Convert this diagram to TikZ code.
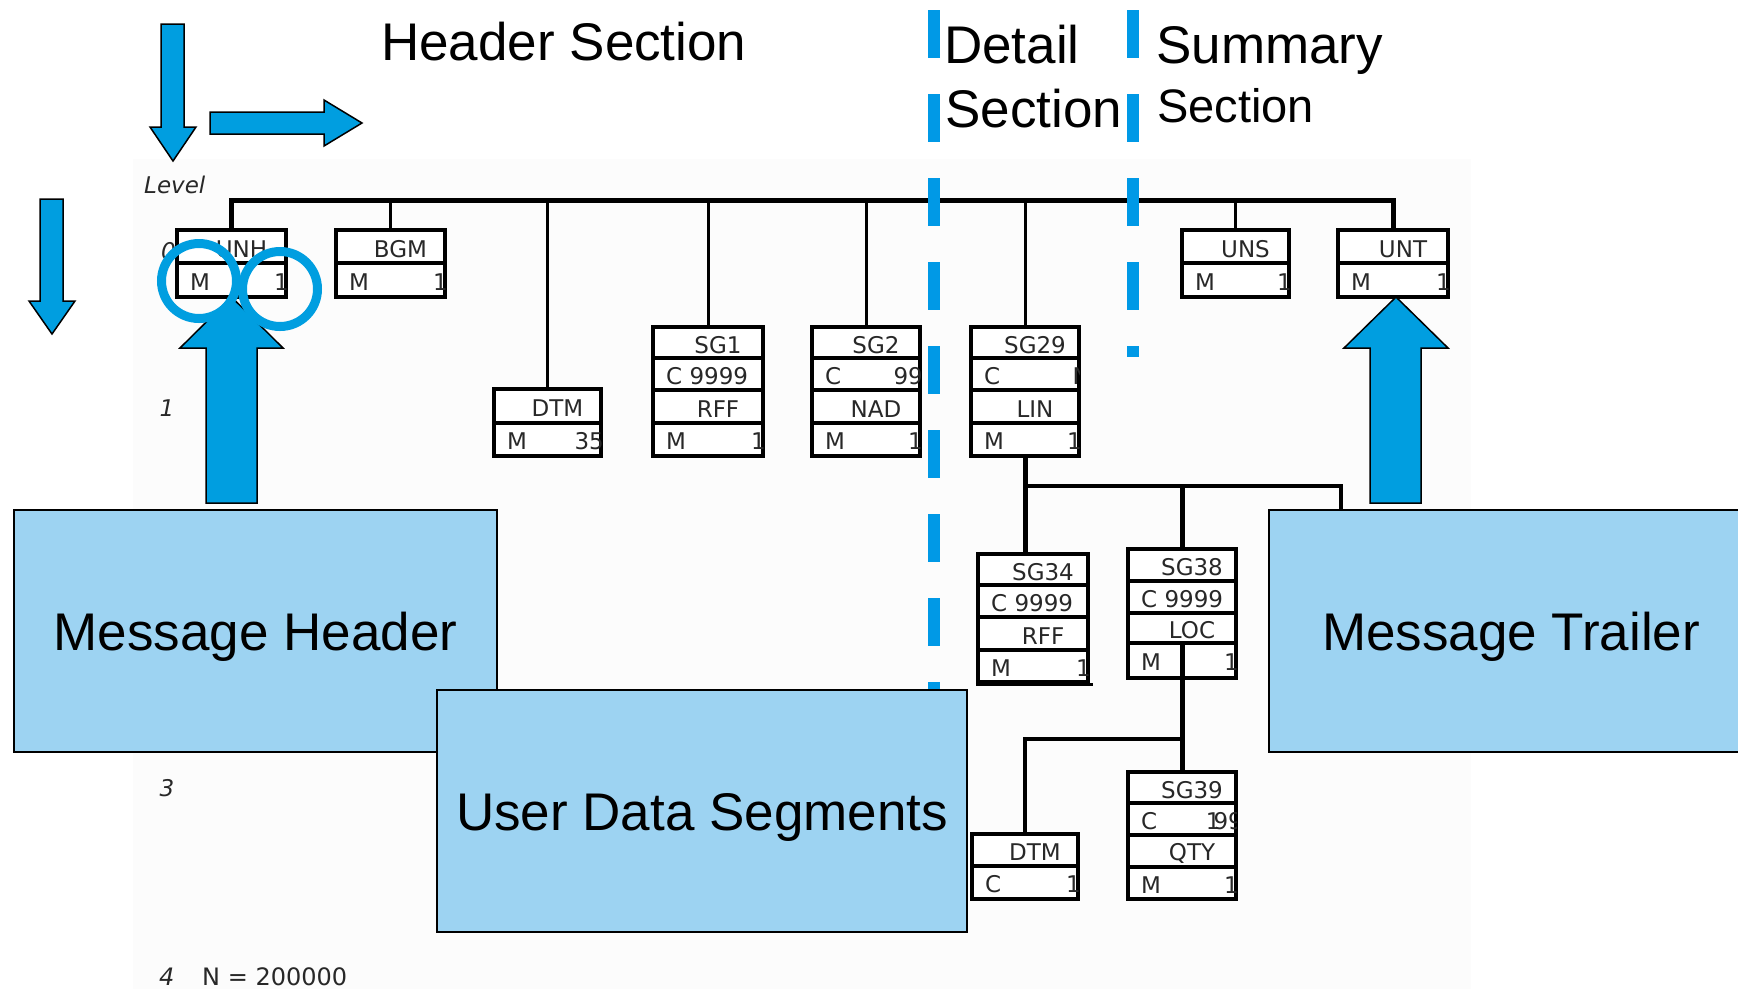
\documentclass[tikz,border=0pt]{standalone}
\usepackage{fontspec}
\setmainfont{Liberation Sans}
\newfontfamily\boxfont{DejaVu Sans}
\usetikzlibrary{fit}
\definecolor{arrowblue}{RGB}{0,158,224}
\definecolor{dashblue}{RGB}{0,153,230}
\definecolor{boxblue}{RGB}{157,211,242}
\definecolor{bggray}{RGB}{252,252,252}
\definecolor{txtgray}{RGB}{40,40,40}
\tikzset{
  segbox/.style={draw=black, fill=white, line width=4.5pt, inner sep=0pt},
  rowline/.style={draw=black, line width=3.5pt},
  boxtxt/.style={inner sep=0pt, text=txtgray, font=\boxfont\fontsize{23}{26}\selectfont},
  lvltxt/.style={inner sep=0pt, text=txtgray, font=\boxfont\itshape\fontsize{23}{26}\selectfont},
  thickconn/.style={draw=black, line width=5pt},
  thinconn/.style={draw=black, line width=3pt},
  midconn/.style={draw=black, line width=4pt},
  blockarrow/.style={fill=arrowblue, draw=black, line width=1.5pt, line join=miter},
  secdash/.style={draw=dashblue, line width=11.5pt, dash pattern=on 47.5pt off 36.5pt},
  ring/.style={draw=arrowblue, line width=9pt},
  bigbox/.style={draw=black, fill=boxblue, line width=2pt, inner sep=0pt,
    font=\fontsize{53}{60}\selectfont, text height=38pt, text depth=0pt},
  bigtxt/.style={inner sep=0pt, anchor=base west, font=\fontsize{53}{60}\selectfont},
}
\newcommand{\edibox}[6]{%
  \node[segbox, fit={(#2,#3) (#4,#5)}] (#1) {};
  \begin{scope}
    \clip (#2,#3) rectangle (#4,#5);
    \foreach \rya/\ryb/\txa/\txb/\txc [count=\k] in {#6} {
      \draw[rowline] (#2,\ryb) -- (#4,\ryb);
      \node[boxtxt, anchor=west] (#1-l\k) at ({#2+13},{(\rya+\ryb)/2+2}) {\txa};
      \node[boxtxt] (#1-c\k) at ({(#2+#4)/2+10},{(\rya+\ryb)/2+2.5}) {\txb};
      \node[boxtxt, anchor=east] (#1-r\k) at ({#4+3},{(\rya+\ryb)/2+2}) {\txc};
    }
  \end{scope}
}
\begin{document}
\begin{tikzpicture}[x=1pt, y=-1pt]
\useasboundingbox (0,0) rectangle (1738,989);
\fill[bggray] (133,159) rectangle (1471,989);

% segment boxes
\edibox{unh}{177}{230}{286}{297}{230/263/{}/UNH/{}, 263/297/M/{}/1}
\edibox{bgm}{336}{230}{445}{297}{230/263/{}/BGM/{}, 263/297/M/{}/1}
\edibox{dtma}{494}{389}{601}{456}{389/423/{}/DTM/{}, 423/456/M/{}/35}
\edibox{sga}{653}{327}{763}{456}{327/358/{}/SG1/{}, 358/390/C 9999/{}/{}, 390/423/{}/RFF/{}, 423/456/M/{}/1}
\edibox{sgb}{812}{327}{920}{456}{327/358/{}/SG2/{}, 358/390/C/{}/99, 390/423/{}/NAD/{}, 423/456/M/{}/1}
\edibox{sgc}{971}{327}{1079}{456}{327/358/{}/SG29/{}, 358/390/C/{}/N\kern-8pt, 390/423/{}/LIN/{}, 423/456/M/{}/1}
\edibox{uns}{1182}{230}{1289}{297}{230/263/{}/UNS/{}, 263/297/M/{}/1}
\edibox{unt}{1338}{230}{1448}{297}{230/263/{}/UNT/{}, 263/297/M/{}/1}
\edibox{sgd}{978}{554}{1088}{682}{554/585/{}/SG34/{}, 585/617/C 9999/{}/{}, 617/650/{}/RFF/{}, 650/682/M/{}/1}
\edibox{sge}{1128}{549}{1236}{678}{549/581/{}/SG38/{}, 581/613/C 9999/{}/{}, 613/643/{}/LOC/{}, 643/678/M/{}/1}
\edibox{dtmb}{972}{834}{1078}{899}{834/866/{}/DTM/{}, 866/899/C/{}/1}
\edibox{sgf}{1128}{772}{1236}{899}{772/803/{}/SG39/{}, 803/835/C/{}/1\kern-7pt 99\kern-4pt, 835/867/{}/QTY/{}, 867/899/M/{}/1}
\draw[rowline] (sgd.south west) -- ++(117,0);

% level labels
\node[lvltxt, anchor=base west] (lvl) at (144,193) {Level};
\node[lvltxt, anchor=west] (lvl0) at (161,251) {0};
\node[lvltxt] (lvl1) at (167,408) {1};
\node[lvltxt] (lvl3) at (167,788) {3};
\node[lvltxt, anchor=base west, font=\boxfont\itshape\fontsize{24}{27}\selectfont] (lvl4) at (159,985) {4};
\node[boxtxt, anchor=base west, font=\boxfont\fontsize{24}{27}\selectfont] (nval) at (202,985) {N = 200000};

% connectors
\coordinate (busy) at (0,200);
\coordinate (hy) at (0,486);
\coordinate (ly) at (0,739);
\coordinate (trj) at (1341,516);
\coordinate (sgej) at (1182,643);
\draw[thickconn] (unh.north) |- (busy -| unt.north) -- (unt.north);
\foreach \b in {bgm,dtma,sga,sgb,sgc,uns}
  \draw[thinconn] (\b.north) -- (\b.north |- busy);
\draw[thickconn] (sgc.south) -- (sgc.south |- sgd.north);
\draw[midconn] (sgc.south |- hy) -| (trj);
\draw[thickconn] (sge.north) -- (sge.north |- hy);
\draw[thickconn] (sgej) -- (sgf.north);
\draw[midconn] (sgej |- ly) -| (dtmb.north);

% section separators
\draw[secdash] (934,10) -- (934,700);
\draw[secdash] (1133,10) -- (1133,357);

% section titles
\node[bigtxt] (hdrsec) at (381,60) {Header Section};
\node[bigtxt] (detA) at (944,63) {Detail};
\node[bigtxt] (detB) at (945,127) {Section};
\node[bigtxt] (sumA) at (1156,63) {Summary};
\node[bigtxt, font=\fontsize{47}{54}\selectfont] (sumB) at (1157,122) {Section};

% block arrows
\draw[blockarrow] (161,24) -- (184,24) -- (184,127) -- (196,127) -- (173,161) -- (150,127) -- (161,127) -- cycle;
\draw[blockarrow] (210,112) -- (324,112) -- (324,100) -- (362,123) -- (324,146) -- (324,134) -- (210,134) -- cycle;
\draw[blockarrow] (40,199) -- (63,199) -- (63,301) -- (75,301) -- (52,334) -- (29,301) -- (40,301) -- cycle;
\draw[blockarrow] (206,503) -- (206,348) -- (180,348) -- (231.5,297) -- (283,348) -- (257,348) -- (257,503) -- cycle;
\draw[blockarrow] (1370,503) -- (1370,348) -- (1344,348) -- (1396,297) -- (1448,348) -- (1421,348) -- (1421,503) -- cycle;

% highlight rings
\draw[ring] (199,281) circle[radius=37.5pt];
\draw[ring] (280,289) circle[radius=37.5pt];

% big labelled boxes
\node[bigbox, minimum width=483pt, minimum height=242pt] (hdr) at (255.5,631) {Message Header};
\node[bigbox, minimum width=530pt, minimum height=242pt] (uds) at (702,811) {User Data Segments};
\node[bigbox, minimum width=484pt, minimum height=242pt] (trl) at (1511,631) {Message Trailer};
\end{tikzpicture}
\end{document}
